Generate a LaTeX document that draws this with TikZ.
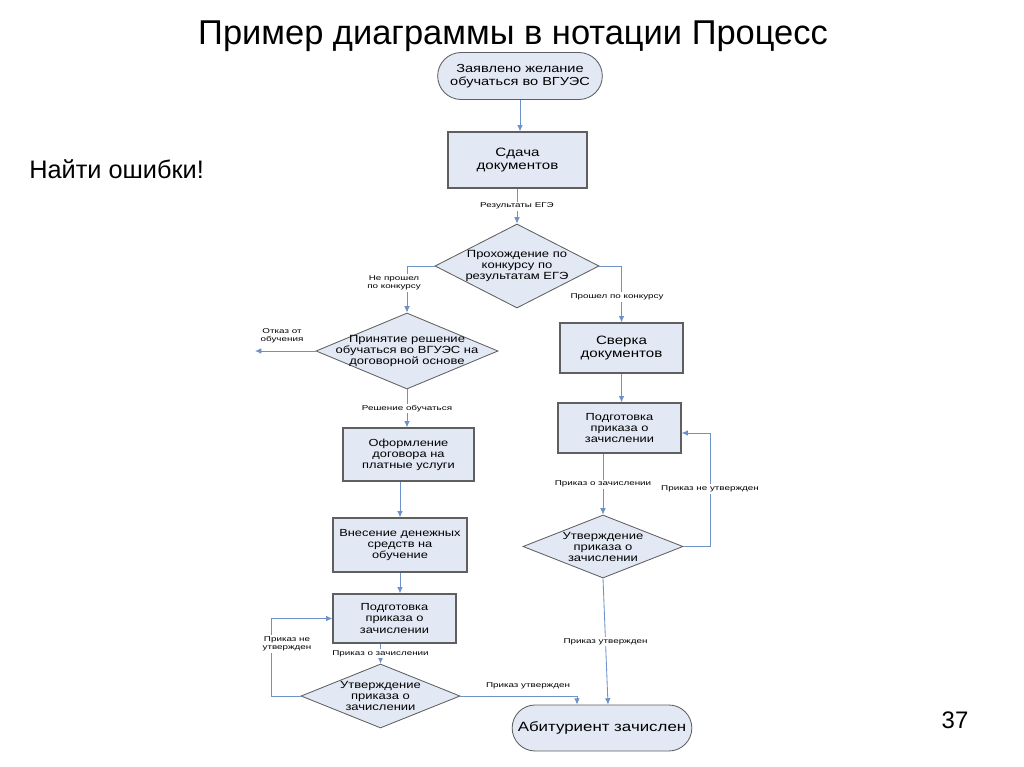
\documentclass[tikz,border=0pt]{standalone}
\usepackage{fontspec}
\setmainfont{Liberation Sans}
\newfontfamily\boxfont[FakeStretch=1.25]{Liberation Sans}
\newfontfamily\notefont[FakeStretch=1.4]{Liberation Sans}
\usetikzlibrary{shapes.geometric,shapes.misc,arrows.meta}
\definecolor{boxfill}{RGB}{227,233,244}
\definecolor{boxline}{RGB}{95,95,95}
\definecolor{flowline}{RGB}{110,145,200}

\begin{document}
\begin{tikzpicture}[x=0.025cm, y=-0.025cm,
        block/.style={rectangle, draw=boxline, fill=boxfill, line width=0.9pt, align=center, inner sep=1pt, font=\boxfont\fontsize{7.3}{7.9}\selectfont},
        terminal/.style={rounded rectangle, draw=boxline, fill=boxfill, line width=0.6pt, align=center, font=\boxfont\fontsize{8.3}{9}\selectfont},
        decision/.style={diamond, draw=boxline, fill=boxfill, line width=0.6pt, inner sep=0pt},
        dtext/.style={align=center, font=\boxfont\fontsize{7.4}{7.8}\selectfont},
        note/.style={fill=white, inner sep=1pt, align=center, font=\notefont\fontsize{5}{5.8}\selectfont},
        arrow/.style={-{Latex[length=4.5pt,width=4pt]}, draw=flowline, line width=0.6pt}
    ]
        \useasboundingbox[fill=white] (0,0) rectangle (1024,767);

        % Titles
        \node[anchor=base, font=\fontsize{24.5}{30}\selectfont] (title) at (513,45) {Пример диаграммы в нотации Процесс};
        \node[anchor=base west, inner sep=0pt, font=\fontsize{18}{21}\selectfont] (task) at (29,179) {Найти ошибки!};
        \node[anchor=base, font=\fontsize{17}{20}\selectfont] (pagenum) at (955,728) {37};

        % Main column
        \node[terminal, minimum width=4.35cm, minimum height=1.175cm] (start) at (520,76) {Заявлено желание\\обучаться во ВГУЭС};
        \node[block, minimum width=3.475cm, minimum height=1.4cm, font=\boxfont\fontsize{8.6}{9.4}\selectfont] (sdacha) at (517.5,160) {Сдача\\документов};
        \node[decision, minimum width=4.1cm, minimum height=2.1cm, label={[dtext]center:Прохождение по\\конкурсу по\\результатам ЕГЭ}] (konkurs) at (517,266) {};

        % Left branch
        \node[decision, minimum width=4.55cm, minimum height=1.9cm, label={[dtext]center:Принятие решение\\обучаться во ВГУЭС на\\договорной основе}] (dogovor) at (407,351) {};
        \coordinate (otkaz) at (255,351);
        \node[block, minimum width=3.275cm, minimum height=1.325cm] (oformlenie) at (408.5,454.5) {Оформление\\договора на\\платные услуги};
        \node[block, minimum width=3.35cm, minimum height=1.35cm] (vnesenie) at (400,545) {Внесение денежных\\средств на\\обучение};
        \node[block, minimum width=3.075cm, minimum height=1.225cm] (prikazL) at (394.5,618.5) {Подготовка\\приказа о\\зачислении};
        \node[decision, minimum width=3.975cm, minimum height=1.6cm, label={[dtext]center:Утверждение\\приказа о\\зачислении}] (utvL) at (380.5,696) {};

        % Right branch
        \node[block, minimum width=3.075cm, minimum height=1.25cm, font=\boxfont\fontsize{8.6}{9.4}\selectfont] (sverka) at (621.5,348) {Сверка\\документов};
        \node[block, minimum width=3.075cm, minimum height=1.25cm] (prikazR) at (619.5,428) {Подготовка\\приказа о\\зачислении};
        \node[decision, minimum width=4cm, minimum height=1.575cm, label={[dtext]center:Утверждение\\приказа о\\зачислении}] (utvR) at (603,546.5) {};

        % End
        \node[terminal, minimum width=4.725cm, minimum height=1.15cm, font=\boxfont\fontsize{9.6}{11}\selectfont] (zachislen) at (602,728) {Абитуриент зачислен};

        % Arrows
        \draw[arrow] (start.south) -- (start.south |- sdacha.north);
        \draw[arrow] (sdacha.south -| konkurs.north) -- node[note] {Результаты ЕГЭ} (konkurs.north);
        \draw[arrow] (konkurs.west) -| (dogovor.north);
        \draw[arrow] (konkurs.east) -| (sverka.north);
        \draw[arrow] (dogovor.west) -- (otkaz);
        \draw[arrow] (dogovor.south) -- node[note] {Решение обучаться} (dogovor.south |- oformlenie.north);
        \draw[arrow] (oformlenie.south -| vnesenie.north) -- (vnesenie.north);
        \draw[arrow] (vnesenie.south) -- (vnesenie.south |- prikazL.north);
        \draw[arrow] (prikazL.south -| utvL.north) -- node[note] {Приказ о зачислении} (utvL.north);
        \draw[arrow] (utvL.west) -- ++(-29,0) |- (prikazL.west);
        \draw[arrow] (utvL.east) -| ([xshift=-0.625cm]zachislen.north);
        \draw[arrow] (sverka.south) -- (sverka.south |- prikazR.north);
        \draw[arrow] (prikazR.south -| utvR.north) -- node[note] {Приказ о зачислении} (utvR.north);
        \draw[arrow] (utvR.east) -- ++(27,0) |- ([yshift=-0.125cm]prikazR.east);
        \draw[arrow] (utvR.south) -- node[note] {Приказ утвержден} ([xshift=0.15cm]zachislen.north);

        % Branch labels
        \node[note] (nepro) at (394,283) {Не прошел\\по конкурсу};
        \node[note] (pro) at (617,297) {Прошел по конкурсу};
        \node[note, fill=none] (otkazText) at (282,336) {Отказ от\\обучения};
        \node[note] (neutvL) at (287,644) {Приказ не\\утвержден};
        \node[note] (neutvR) at (710,489) {Приказ не утвержден};
        \node[note, fill=none] (utvText) at (528,686) {Приказ утвержден};
    \end{tikzpicture}
\end{document}
